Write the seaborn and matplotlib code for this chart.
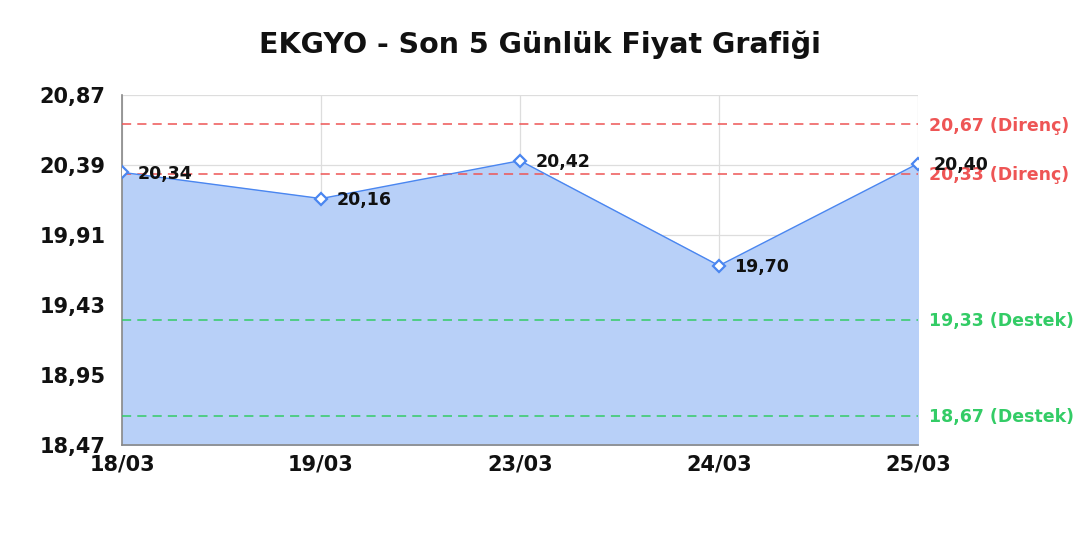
import matplotlib
matplotlib.use('Agg')
import pandas as pd
import seaborn as sns
import matplotlib.pyplot as plt

# data
dates = ['18/03', '19/03', '23/03', '24/03', '25/03']
prices = [20.34, 20.16, 20.42, 19.70, 20.40]
resistance = [20.67, 20.33]
support = [19.33, 18.67]
y_ticks = [18.47, 18.95, 19.43, 19.91, 20.39, 20.87]

df = pd.DataFrame({'Tarih': dates, 'Fiyat': prices})
df['x'] = range(len(df))

sns.set_theme(style='white')
plt.rcParams['font.family'] = ['DejaVu Sans']

fig = plt.figure(figsize=(10.8, 5.4), dpi=100)
ax = fig.add_axes([0.113, 0.176, 0.737, 0.648])

line_col = '#4a86f0'
ax.fill_between(df['x'], df['Fiyat'], y_ticks[0], color='#b8d0f8', zorder=1)
sns.lineplot(data=df, x='x', y='Fiyat', ax=ax, color=line_col, linewidth=1.0,
             marker='D', markersize=6, markerfacecolor='white',
             markeredgecolor=line_col, markeredgewidth=1.6, zorder=4)

for xi, p in zip(df['x'], df['Fiyat']):
    ax.annotate(f'{p:.2f}'.replace('.', ','), (xi, p), xytext=(11, -1),
                textcoords='offset points', ha='left', va='center',
                fontsize=12.5, fontweight='bold', color='#111111', zorder=5)

for r in resistance:
    ax.axhline(r, color='#ee5555', linestyle=(0, (6, 4)), linewidth=1.1, zorder=3)
    ax.annotate(f'{r:.2f}'.replace('.', ',') + ' (Direnç)', (1, r),
                xycoords=('axes fraction', 'data'), xytext=(8, -1),
                textcoords='offset points', ha='left', va='center',
                fontsize=12.5, fontweight='bold', color='#ee5555', annotation_clip=False)
for s in support:
    ax.axhline(s, color='#33cc66', linestyle=(0, (6, 4)), linewidth=1.1, zorder=3)
    ax.annotate(f'{s:.2f}'.replace('.', ',') + ' (Destek)', (1, s),
                xycoords=('axes fraction', 'data'), xytext=(8, -1),
                textcoords='offset points', ha='left', va='center',
                fontsize=12.5, fontweight='bold', color='#33cc66', annotation_clip=False)

ax.set_xlim(0, len(dates) - 1)
ax.set_ylim(y_ticks[0], y_ticks[-1])
ax.set_xticks(df['x'])
ax.set_xticklabels(dates)
ax.set_yticks(y_ticks)
ax.set_yticklabels([f'{t:.2f}'.replace('.', ',') for t in y_ticks])
ax.tick_params(axis='y', labelsize=15, length=0, pad=12)
ax.tick_params(axis='x', labelsize=15, length=0, pad=7)
for lab in ax.get_xticklabels() + ax.get_yticklabels():
    lab.set_fontweight('bold')
    lab.set_color('#111111')

ax.grid(True, color='#dddddd', linewidth=0.9, zorder=0)
ax.set_axisbelow(True)
for side in ['top', 'right']:
    ax.spines[side].set_visible(False)
for side in ['left', 'bottom']:
    ax.spines[side].set_color('#888888')
    ax.spines[side].set_linewidth(1.2)
ax.set_xlabel('')
ax.set_ylabel('')

fig.text(0.5, 0.917, 'EKGYO - Son 5 Günlük Fiyat Grafiği', ha='center', va='center',
         fontsize=20.5, fontweight='bold', color='#111111')

fig.savefig('out.png', dpi=100, facecolor='white')
